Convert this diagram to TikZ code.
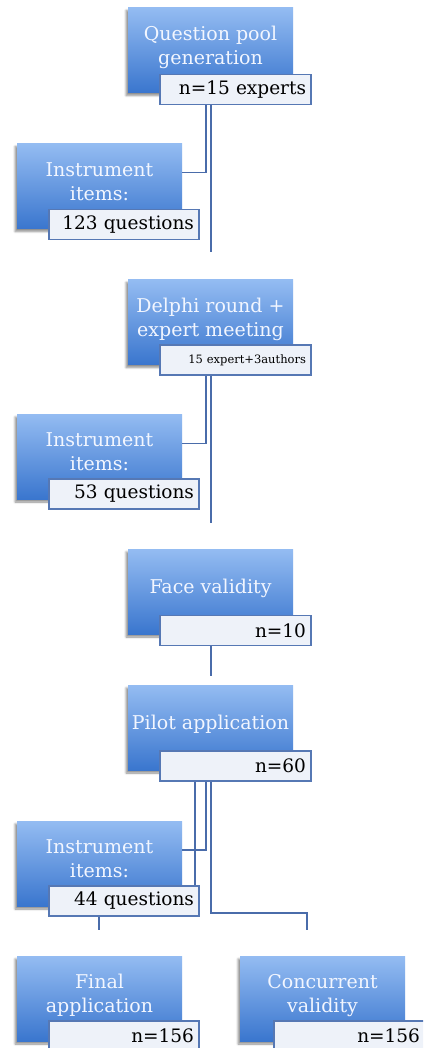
\documentclass[tikz,border=0pt]{standalone}
\usepackage{fontspec}
\setmainfont{DejaVu Serif}
\usetikzlibrary{shadows.blur,calc}

\definecolor{boxtop}{RGB}{148,188,242}
\definecolor{boxbot}{RGB}{58,118,206}
\definecolor{tagfill}{RGB}{238,242,249}
\definecolor{tagline}{RGB}{86,120,180}
\definecolor{wire}{RGB}{74,108,170}
\definecolor{titletext}{RGB}{242,246,255}

% stage title lifted slightly above the box centre
\newcommand{\stagetitle}[1]{\raisebox{2.5pt}[\height][\depth]{\begin{tabular}{@{}c@{}}#1\end{tabular}}}

\tikzset{
  stage/.style={minimum width=165pt, minimum height=85pt, inner sep=0pt,
    top color=boxtop, bottom color=boxbot, text=titletext,
    font=\fontsize{19}{24}\selectfont,
    blur shadow={shadow xshift=-2pt, shadow yshift=-3pt, shadow blur steps=6, shadow opacity=45}},
  tag/.style={draw=tagline, line width=1.3pt, fill=tagfill, minimum height=30pt,
    text width=141pt, align=right, inner xsep=5pt, inner ysep=0pt, text=black,
    font=\fontsize{18.5}{20}\selectfont},
  smalltag/.style={tag, font=\fontsize{11.5}{13}\selectfont},
  wire/.style={draw=wire, line width=1.5pt}
}

\begin{document}
\begin{tikzpicture}[x=1pt,y=-1pt]
  \useasboundingbox (0,0) rectangle (423,1048);
  \clip (0,0) rectangle (423,1048);

  % stage boxes
  \node[stage] (q)  at (210.5,50)   {\stagetitle{Question pool\\generation}};
  \node[tag]   (ql) at (235.5,89.5) {n=15 experts};

  \node[stage] (i1)  at (99.5,186)  {\stagetitle{Instrument\\items:}};
  \node[tag, text width=140pt] (i1l) at (124,224.5) {123 questions};

  \node[stage] (d)  at (210.5,322)  {\stagetitle{Delphi round +\\expert meeting}};
  \node[smalltag] (dl) at (235.5,360) {15 expert+3authors};

  \node[stage] (i2)  at (99.5,456.5) {\stagetitle{Instrument\\items:}};
  \node[tag, text width=140pt] (i2l) at (124,494) {53 questions};

  \node[stage] (f)  at (210.5,591.5) {\stagetitle{Face validity}};
  \node[tag]   (fl) at (235.5,630.5) {n=10};

  \node[stage] (p)  at (210.5,727.5) {\stagetitle{Pilot application}};
  \node[tag]   (pl) at (235.5,766)   {n=60};

  \node[stage] (i3)  at (99.5,863.5) {\stagetitle{Instrument\\items:}};
  \node[tag, text width=140pt] (i3l) at (124,901) {44 questions};

  \node[stage] (fa)  at (99.5,998.5) {\stagetitle{Final\\application}};
  \node[tag, text width=140pt] (fal) at (124,1036) {n=156};

  \node[stage] (cv)  at (322.5,998.5) {\stagetitle{Concurrent\\validity}};
  \node[tag]   (cvl) at (349.5,1036) {n=156};

  % connector columns and open ends
  \coordinate (cA) at (195,0);
  \coordinate (cB) at (206,0);
  \coordinate (cC) at (211,0);
  \coordinate (cD) at (307,0);
  \coordinate (cE) at (99,0);
  \coordinate (e1) at (211,252);
  \coordinate (e2) at (211,523);
  \coordinate (e3) at (211,676);
  \coordinate (e4) at (307,930);
  \coordinate (e5) at (99,930);
  \coordinate (t4) at (0,913);

  % connectors
  \draw[wire] (ql.south -| cB) |- ($(i1.east)+(0,-13.5)$);
  \draw[wire] (ql.south -| cC) -- (e1);

  \draw[wire] (dl.south -| cB) |- ($(i2.east)+(0,-13)$);
  \draw[wire] (dl.south -| cC) -- (e2);

  \draw[wire] (fl.south -| cC) -- (e3);

  \draw[wire] (pl.south -| cA) -- (i3l.north -| cA);
  \draw[wire] (pl.south -| cB) |- ($(i3.east)+(0,-13.5)$);
  \draw[wire] (pl.south -| cC) -- (cC |- t4) -- (cD |- t4) -- (e4);

  \draw[wire] (i3l.south -| cE) -- (e5);
\end{tikzpicture}
\end{document}
